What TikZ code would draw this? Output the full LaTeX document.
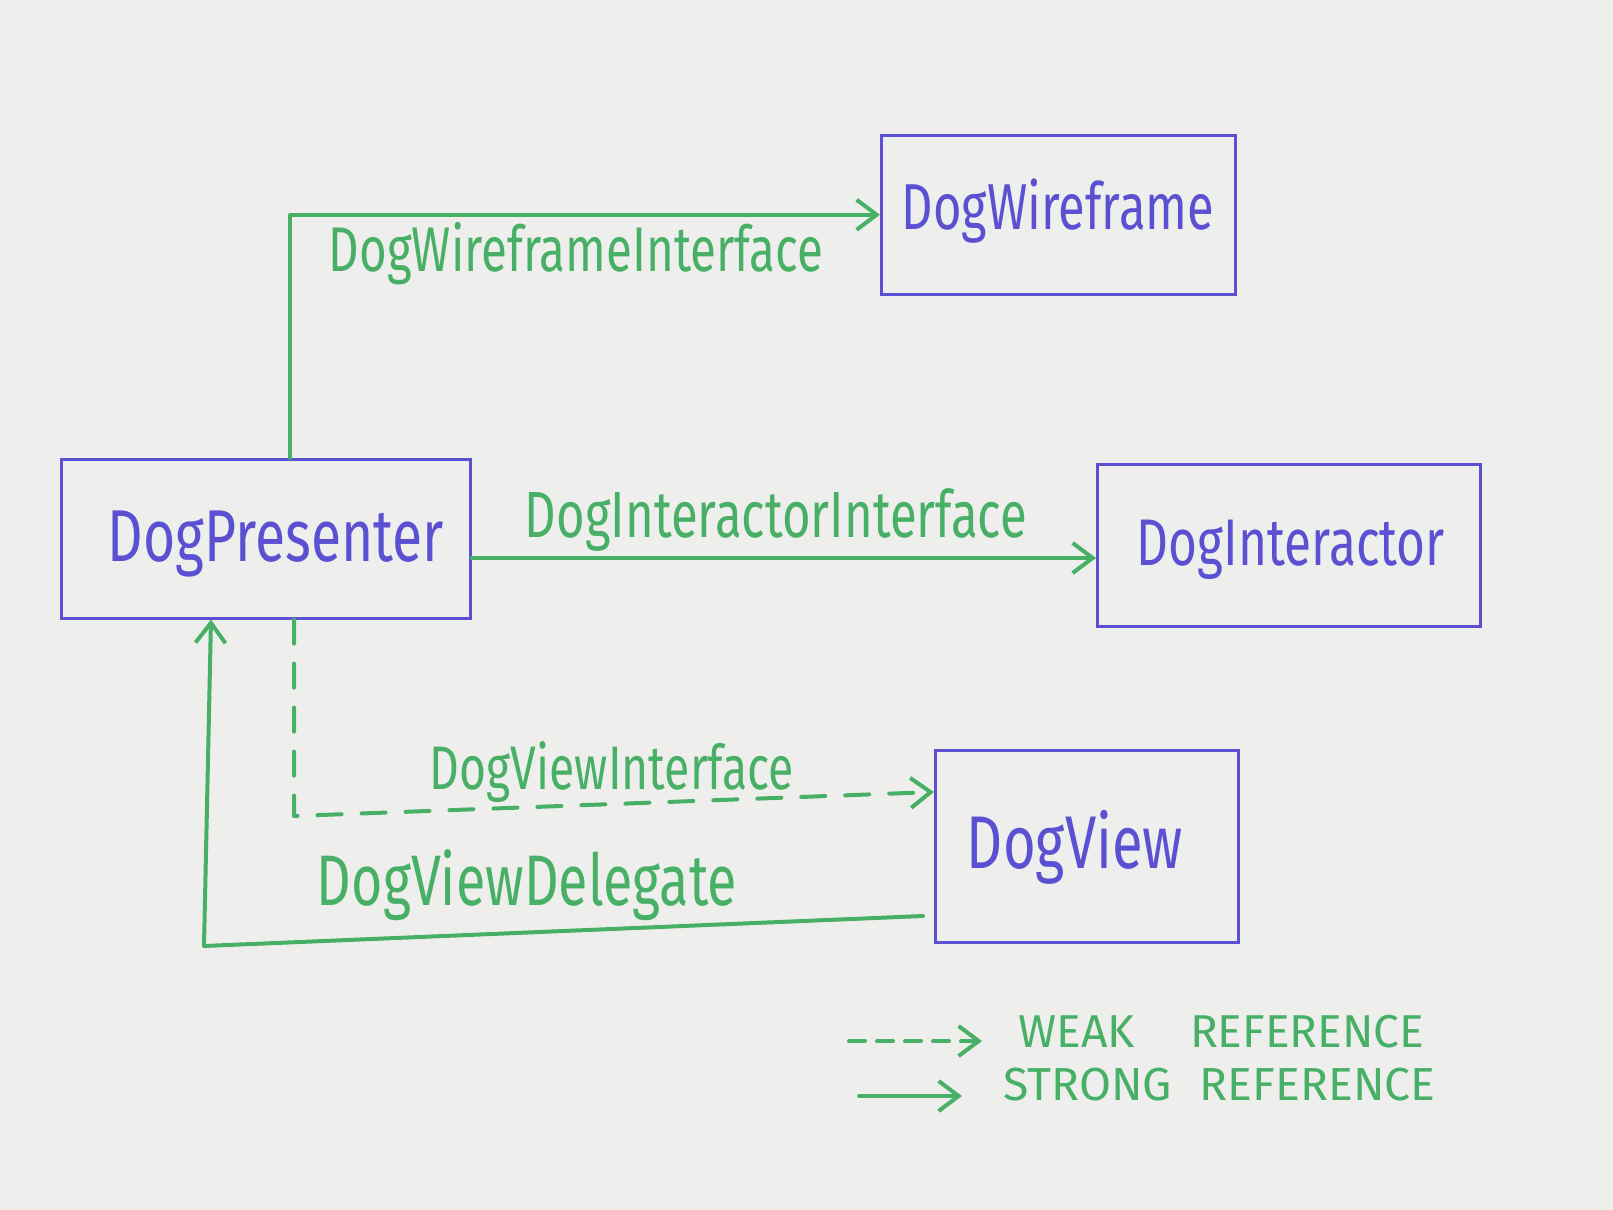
\documentclass[tikz,border=0pt]{standalone}
\usepackage{fontspec}
\setmainfont{Fira Sans}
\usetikzlibrary{arrows.meta}
\definecolor{paper}{RGB}{238,238,236}
\definecolor{pen}{RGB}{92,80,210}
\definecolor{mark}{RGB}{72,176,102}
\newcommand{\fitw}[2]{\scalebox{1}[1.33]{\resizebox{#1pt}{!}{#2}}}
\newcommand{\fitl}[2]{\resizebox{#1pt}{!}{#2}}
\tikzset{
  box/.style={draw=pen, line width=1.3pt, inner sep=0pt, text=pen},
  lbl/.style={text=mark, inner sep=0pt},
  strong/.style={draw=mark, line width=2pt, line cap=round, line join=round, -{Straight Barb[length=10pt,width=15pt,line width=2pt]}},
  weak/.style={strong, dash pattern=on 12pt off 10pt},
  weakleg/.style={strong, dash pattern=on 8pt off 6pt},
}
\begin{document}
\begin{tikzpicture}[x=0.5pt,y=-0.5pt]
\fill[paper] (0,0) rectangle (1613,1210);
\useasboundingbox (0,0) rectangle (1613,1210);

% boxes
\node[box, minimum width=177pt, minimum height=79.5pt, anchor=north west] (wf) at (880,134) {};
\node[box, minimum width=204.5pt, minimum height=79.5pt, anchor=north west] (pres) at (60,458) {};
\node[box, minimum width=191.5pt, minimum height=81pt, anchor=north west] (int) at (1096,463) {};
\node[box, minimum width=151.5pt, minimum height=96pt, anchor=north west] (view) at (934,749) {};

% box texts
\node[lbl, text=pen] (twf) at (1058,211) {\fitw{156}{DogWireframe}};
\node[lbl, text=pen] (tpres) at (276,544) {\fitw{168}{DogPresenter}};
\node[lbl, text=pen] (tint) at (1291,550) {\fitw{154}{DogInteractor}};
\node[lbl, text=pen] (tview) at (1075,847) {\fitw{108}{DogView}};

% connector labels
\node[lbl] (lwf) at (576,254) {\fitw{247}{DogWireframeInterface}};
\node[lbl] (lint) at (776,520) {\fitw{251}{DogInteractorInterface}};
\node[lbl] (lview) at (612,772) {\fitw{182}{DogViewInterface}};
\node[lbl] (ldel) at (527,885) {\fitw{210}{DogViewDelegate}};

% helper coordinates
\coordinate (cwf) at (290,214);
\coordinate (cint) at (0,558);
\coordinate (cd1) at (294,816);
\coordinate (cd2) at (0,792);
\coordinate (cs1) at (923,916);
\coordinate (cs2) at (204,946);
\coordinate (cs3) at (211,0);

% connectors
\draw[strong] (pres.north -| cwf) |- (wf.west);
\draw[strong] (pres.east |- cint) -- (int.west |- cint);
\draw[weak] (pres.south -| cd1) -- (cd1) -- (view.west |- cd2);
\draw[strong] (cs1) -- (cs2) -- (pres.south -| cs3);

% legend
\coordinate (w1) at (849,1041);
\coordinate (w2) at (982,1041);
\coordinate (s1) at (859,1096);
\coordinate (s2) at (962,1096);
\draw[weakleg] (w1) -- (w2);
\draw[strong] (s1) -- (s2);
\node[lbl, anchor=west] (lweak) at (1018,1032) {\fitl{203}{WEAK\hspace{1.2em}REFERENCE}};
\node[lbl, anchor=west] (lstrong) at (1003,1085) {\fitl{216}{STRONG\hspace{0.6em}REFERENCE}};
\end{tikzpicture}
\end{document}
